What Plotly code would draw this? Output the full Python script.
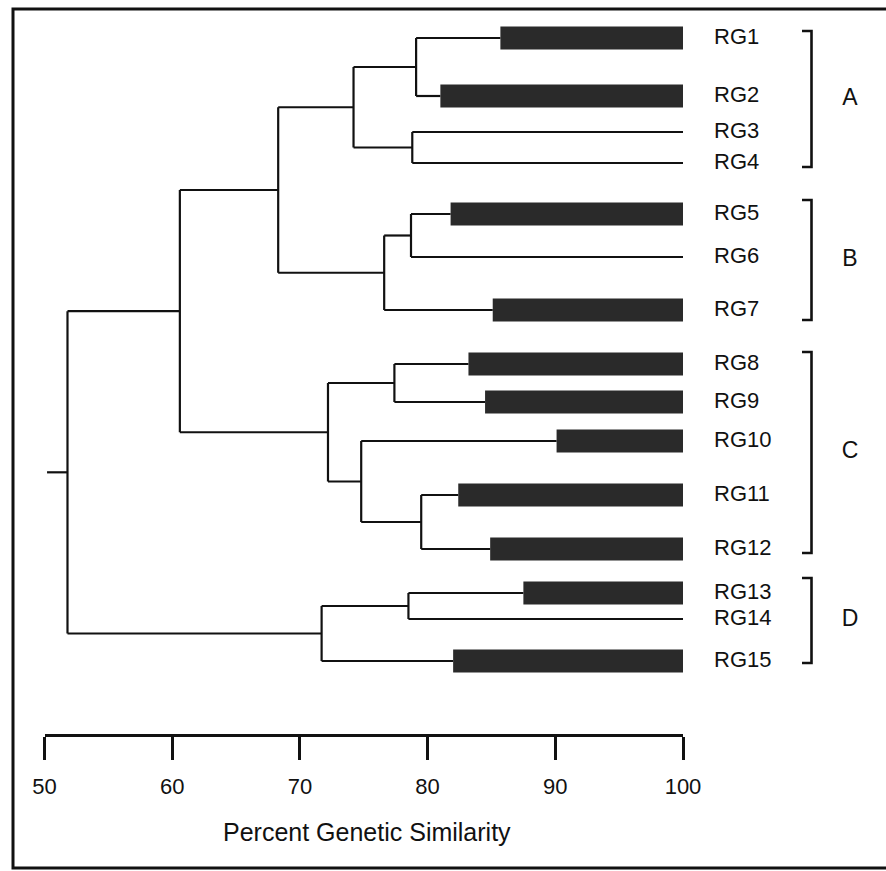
import plotly.graph_objects as go

# ---------------- data ----------------
leaves = ["RG1", "RG2", "RG3", "RG4", "RG5", "RG6", "RG7", "RG8",
          "RG9", "RG10", "RG11", "RG12", "RG13", "RG14", "RG15"]
# start of the black bar for each leaf (None = no bar, just a line)
bar_start = [85.7, 81.0, None, None, 81.8, None, 85.1, 83.2,
             84.5, 90.1, 82.4, 84.9, 87.5, None, 82.0]
# agglomeration steps: node 15+k joins merge_left[k] and merge_right[k]
merge_left = [0, 2, 15, 4, 18, 17, 7, 10, 9, 21, 20, 12, 26, 25]
merge_right = [1, 3, 16, 5, 6, 19, 8, 11, 22, 23, 24, 13, 14, 27]
merge_sim = [79.1, 78.8, 74.2, 78.7, 76.6, 68.3, 77.4, 79.5,
             74.8, 72.2, 60.6, 78.5, 71.7, 51.8]
root_stub_from = 50.2
groups = ["A", "B", "C", "D"]
scale_ticks = [50, 60, 70, 80, 90, 100]
axis_title = "Percent Genetic Similarity"

# ---------------- layout positions (pixels) ----------------
W, H = 886, 871
row_y = [38, 96, 132, 163, 214, 257, 310, 364, 402, 441, 495, 549, 593, 619, 661]
bracket_top = [31, 200, 352, 578]
bracket_bottom = [167, 320, 553, 663]
PX50, PX100 = 44.5, 683.0
ppu = (PX100 - PX50) / 50.0


def px2x(px):
    return 50 + (px - PX50) / ppu


label_x = px2x(714)
bracket_x = px2x(811.5)
bracket_tick_x = px2x(802)
group_x = px2x(850)
AXIS_Y = 735

# ---------------- build dendrogram geometry ----------------
node_x = [b if b is not None else 100 for b in bar_start]
node_y = list(row_y)
for a, b, s in zip(merge_left, merge_right, merge_sim):
    node_x.append(s)
    node_y.append((node_y[a] + node_y[b]) / 2)

lx, ly = [], []
for k, (a, b, s) in enumerate(zip(merge_left, merge_right, merge_sim)):
    for c in (a, b):
        lx += [s, node_x[c], None]
        ly += [node_y[c], node_y[c], None]
    lx += [s, s, None]
    ly += [node_y[a], node_y[b], None]
root = len(node_x) - 1
lx += [root_stub_from, node_x[root], None]
ly += [node_y[root], node_y[root], None]

fig = go.Figure()
fig.add_trace(go.Scatter(x=lx, y=ly, mode="lines",
                         line=dict(color="#111111", width=2.2),
                         hoverinfo="skip", showlegend=False))

bi = [i for i, b in enumerate(bar_start) if b is not None]
fig.add_trace(go.Bar(orientation="h",
                     y=[row_y[i] for i in bi],
                     base=[bar_start[i] for i in bi],
                     x=[100 - bar_start[i] for i in bi],
                     width=23, marker=dict(color="#2a2a2a", line=dict(width=0)),
                     hoverinfo="skip", showlegend=False))

fig.add_trace(go.Scatter(x=[label_x] * len(leaves), y=row_y, mode="text",
                         text=leaves, textposition="middle right",
                         textfont=dict(family="Liberation Sans, Arial", size=22, color="#111111"),
                         hoverinfo="skip", showlegend=False, cliponaxis=False))

bx, by = [], []
for t, b in zip(bracket_top, bracket_bottom):
    bx += [bracket_tick_x, bracket_x, bracket_x, bracket_tick_x, None]
    by += [t, t, b, b, None]
fig.add_trace(go.Scatter(x=bx, y=by, mode="lines",
                         line=dict(color="#111111", width=2.6),
                         hoverinfo="skip", showlegend=False))

fig.add_trace(go.Scatter(x=[group_x] * len(groups),
                         y=[(t + b) / 2 for t, b in zip(bracket_top, bracket_bottom)],
                         mode="text", text=groups, textposition="middle center",
                         textfont=dict(family="Liberation Sans, Arial", size=23, color="#111111"),
                         hoverinfo="skip", showlegend=False, cliponaxis=False))

# invisible trace so the scale axis is drawn
fig.add_trace(go.Scatter(x=scale_ticks, y=[None] * len(scale_ticks), xaxis="x2", yaxis="y",
                         mode="markers", marker=dict(opacity=0),
                         hoverinfo="skip", showlegend=False))

fig.update_layout(
    width=W, height=H,
    margin=dict(l=0, r=0, t=0, b=0, autoexpand=False),
    paper_bgcolor="white", plot_bgcolor="rgba(0,0,0,0)",
    barmode="overlay",
    xaxis=dict(range=[px2x(0), px2x(W)], visible=False, domain=[0, 1]),
    yaxis=dict(range=[H, 0], visible=False, domain=[0, 1]),
    xaxis2=dict(domain=[PX50 / W, PX100 / W], range=[50, 100], anchor="free",
                position=(H - AXIS_Y) / H, side="bottom", automargin=False,
                showline=True, linewidth=3, linecolor="#111111",
                ticks="outside", ticklen=23, tickwidth=3, tickcolor="#111111",
                tickvals=scale_ticks, ticktext=[str(t) for t in scale_ticks],
                tickfont=dict(family="Liberation Sans, Arial", size=22, color="#111111"),
                ticklabelstandoff=8,
                showgrid=False, zeroline=False),
    shapes=[dict(type="rect", xref="paper", yref="paper",
                 x0=13 / W, x1=1.01, y0=1 - 868 / H, y1=1 - 9 / H,
                 line=dict(color="#111111", width=3))],
    annotations=[dict(text=axis_title, xref="paper", yref="paper",
                      x=366.5 / W, y=1 - 832 / H, xanchor="center", yanchor="middle",
                      showarrow=False,
                      font=dict(family="Liberation Sans, Arial", size=25, color="#111111"))],
)

fig.write_html("out.html", config={"displayModeBar": False},
               post_script="document.body.style.margin='0';document.body.style.overflow='hidden';")
